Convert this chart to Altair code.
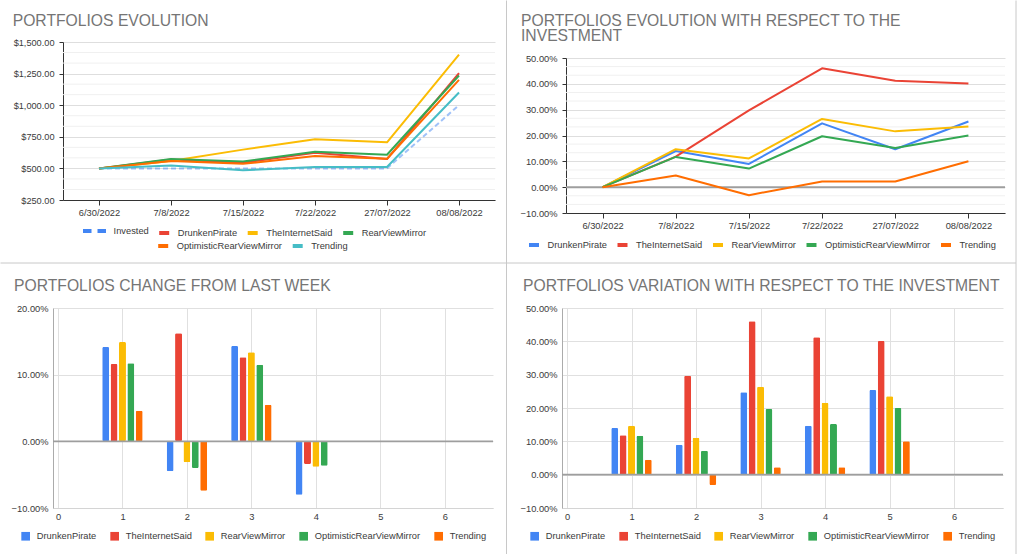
import altair as alt
import pandas as pd

FONT = "Liberation Sans"
LABEL = "#3a3a3a"
TITLE_GRAY = "#757575"
BLUE, RED, YELLOW, GREEN, ORANGE, TEAL = "#4285F4", "#EA4335", "#FBBC04", "#34A853", "#FF6D01", "#46BDC6"

dates = ["6/30/2022", "7/8/2022", "7/15/2022", "7/22/2022", "27/07/2022", "08/08/2022"]
portfolios = ["DrunkenPirate", "TheInternetSaid", "RearViewMirror", "OptimisticRearViewMirror", "Trending"]

# Portfolio value in dollars on each date
invested = [500, 500, 500, 500, 500, 1000]
drunken_pirate_usd = [500, 570, 545, 623.5, 573.5, 1254]
internet_said_usd = [500, 559, 648.5, 730, 706, 1401]
rear_view_usd = [500, 573.5, 555.5, 632, 608, 1235]
optimistic_rear_view_usd = [500, 558.5, 536, 598.5, 576, 1200]
trending_usd = [500, 522.5, 484.5, 511, 511, 1100]

# Return with respect to the invested amount (%)
drunken_pirate_ret = [0, 14.0, 9.0, 24.7, 14.7, 25.4]
internet_said_ret = [0, 11.8, 29.7, 46.0, 41.2, 40.1]
rear_view_ret = [0, 14.7, 11.1, 26.4, 21.6, 23.5]
optimistic_rear_view_ret = [0, 11.7, 7.2, 19.7, 15.2, 20.0]
trending_ret = [0, 4.5, -3.1, 2.2, 2.2, 10.0]

# Week-over-week change (%)
change_weeks = [1, 2, 3, 4]
drunken_pirate_chg = [14.15, -4.5, 14.3, -8.0]
internet_said_chg = [11.6, 16.2, 12.6, -3.4]
rear_view_chg = [14.9, -3.15, 13.35, -3.8]
optimistic_rear_view_chg = [11.7, -4.0, 11.5, -3.65]
trending_chg = [4.6, -7.4, 5.5, 0.0]

# Variation with respect to the investment, per week (%)
variation_weeks = [1, 2, 3, 4, 5]
drunken_pirate_var = [14.0, 9.0, 24.7, 14.7, 25.4]
internet_said_var = [11.8, 29.7, 46.0, 41.2, 40.1]
rear_view_var = [14.7, 11.1, 26.4, 21.6, 23.5]
optimistic_rear_view_var = [11.7, 7.2, 19.7, 15.2, 20.0]
trending_var = [4.5, -3.1, 2.2, 2.2, 10.0]

usd_ticks = [250, 500, 750, 1000, 1250, 1500]
ret_ticks = [-10, 0, 10, 20, 30, 40, 50]
chg_ticks = [-10, 0, 10, 20]
week_ticks = [0, 1, 2, 3, 4, 5, 6]


def minor_lines(ticks):
    step = ticks[1] - ticks[0]
    return [t + step * k / 3 for t in ticks[:-1] for k in (1, 2)]


def long_frame(xname, xs, series_dict):
    rows = []
    for i, (name, vals) in enumerate(series_dict.items()):
        for x, v in zip(xs, vals):
            rows.append({xname: x, "series": name, "idx": i, "value": v})
    return pd.DataFrame(rows)


usd_df = long_frame("date", dates, {
    "Invested": invested,
    "DrunkenPirate": drunken_pirate_usd,
    "TheInternetSaid": internet_said_usd,
    "RearViewMirror": rear_view_usd,
    "OptimisticRearViewMirror": optimistic_rear_view_usd,
    "Trending": trending_usd,
})
ret_df = long_frame("date", dates, dict(zip(portfolios, [
    drunken_pirate_ret, internet_said_ret, rear_view_ret, optimistic_rear_view_ret, trending_ret])))
chg_df = long_frame("week", change_weeks, dict(zip(portfolios, [
    drunken_pirate_chg, internet_said_chg, rear_view_chg, optimistic_rear_view_chg, trending_chg])))
var_df = long_frame("week", variation_weeks, dict(zip(portfolios, [
    drunken_pirate_var, internet_said_var, rear_view_var, optimistic_rear_view_var, trending_var])))

pct_expr = "format(datum.value, '.2f') + '%'"
ONE = pd.DataFrame({"d": [0]})


def heading(text, dx, dy):
    # panel heading, placed relative to the panel's plot area
    return alt.Chart(ONE).mark_text(
        align="left", baseline="alphabetic", font=FONT, fontSize=15.7, color=TITLE_GRAY,
        lineBreak="\n", lineHeight=15).encode(
        x=alt.value(dx), y=alt.value(dy), text=alt.value(text))


def line_legend(x, y, size=100, offset=6.5, **kw):
    return alt.Legend(orient="none", legendX=x, legendY=y, direction="horizontal", title=None,
                      symbolType="stroke", symbolSize=size, symbolStrokeWidth=4,
                      labelOffset=offset, columnPadding=2.5, symbolOpacity=1, **kw)


def date_x(r0, r1):
    return alt.X("date:O", sort=dates, title=None,
                 scale=alt.Scale(type="point", range=[r0, r1], padding=0.5),
                 axis=alt.Axis(labelAngle=0, domainColor="#333", tickColor="#333", tickSize=5,
                               labelPadding=3, grid=False, labelOverlap=False))


# ---- Portfolios evolution (dollars) ----
P1_L, P1_R = 10, 442
usd_scale = alt.Scale(domain=[250, 1500], nice=False, zero=False)
y_usd = alt.Y("value:Q", title=None, scale=usd_scale,
              axis=alt.Axis(values=usd_ticks, tickCount=len(usd_ticks), format="$,.2f", offset=-P1_L,
                            domainColor="#333", tickColor="#333", tickSize=4, labelPadding=5,
                            gridColor="#dedede", labelFontSize=9.2, labelOverlap=False))
usd_minor = alt.Chart(pd.DataFrame({"value": minor_lines(usd_ticks)})).mark_rule(
    color="#f0f0f0", strokeWidth=1).encode(
    y=alt.Y("value:Q", title=None, scale=usd_scale), x=alt.value(P1_L), x2=alt.value(P1_R))

inv_layer = alt.Chart(usd_df[usd_df.series == "Invested"]).mark_line(
    strokeWidth=2, strokeDash=[5, 3], strokeOpacity=0.5).encode(
    x=date_x(P1_L, P1_R), y=y_usd,
    color=alt.Color("series:N", scale=alt.Scale(domain=["Invested"], range=[BLUE]),
                    legend=line_legend(28, 175.5, size=529, offset=5.6, symbolDash=[8.5, 6])))
grp_a = ["DrunkenPirate", "TheInternetSaid", "RearViewMirror"]
grp_b = ["OptimisticRearViewMirror", "Trending"]
a_layer = alt.Chart(usd_df[usd_df.series.isin(grp_a)]).mark_line(strokeWidth=2, strokeJoin="round").encode(
    x=date_x(P1_L, P1_R), y=y_usd,
    color=alt.Color("series:N", scale=alt.Scale(domain=grp_a, range=[RED, YELLOW, GREEN]),
                    legend=line_legend(104.2, 184)))
b_layer = alt.Chart(usd_df[usd_df.series.isin(grp_b)]).mark_line(strokeWidth=2, strokeJoin="round").encode(
    x=date_x(P1_L, P1_R), y=y_usd,
    color=alt.Color("series:N", scale=alt.Scale(domain=grp_b, range=[ORANGE, TEAL]),
                    legend=line_legend(103.2, 197)))

p1 = alt.layer(usd_minor, inv_layer, a_layer, b_layer,
               heading("PORTFOLIOS EVOLUTION", -40.3, -16)).resolve_scale(
    color="independent").properties(width=442, height=158)

# ---- Portfolios evolution with respect to the investment (%) ----
P2_L, P2_R = 4, 443
ret_scale = alt.Scale(domain=[-10, 50], nice=False, range=[171, 16])
y_ret = alt.Y("value:Q", title=None, scale=ret_scale,
              axis=alt.Axis(values=ret_ticks, tickCount=len(ret_ticks), labelExpr=pct_expr, offset=-P2_L,
                            domainColor="#333", tickColor="#333", tickSize=4, labelPadding=5,
                            gridColor="#dedede", labelOverlap=False))
ret_minor = alt.Chart(pd.DataFrame({"value": minor_lines(ret_ticks)})).mark_rule(
    color="#f0f0f0", strokeWidth=1).encode(
    y=alt.Y("value:Q", title=None, scale=ret_scale), x=alt.value(P2_L), x2=alt.value(P2_R))
ret_zero = alt.Chart(pd.DataFrame({"value": [0]})).mark_rule(color="#9e9e9e", strokeWidth=2).encode(
    y=alt.Y("value:Q", title=None, scale=ret_scale), x=alt.value(P2_L), x2=alt.value(P2_R))
ret_lines = alt.Chart(ret_df).mark_line(strokeWidth=2, strokeJoin="round").encode(
    x=date_x(P2_L, P2_R), y=y_ret,
    color=alt.Color("series:N", scale=alt.Scale(domain=portfolios, range=[BLUE, RED, YELLOW, GREEN, ORANGE]),
                    legend=line_legend(-35, 196)))
p2 = alt.layer(ret_minor, ret_zero, ret_lines,
               heading("PORTFOLIOS EVOLUTION WITH RESPECT TO THE\nINVESTMENT", -41, -16)).properties(
    width=443, height=171)


# ---- Grouped bar panels ----
def bar_panel(df, ymin, ymax, yticks, width, xmax, text, dx, dividers=False):
    yscale = alt.Scale(domain=[ymin, ymax], nice=False)
    bars = alt.Chart(df).transform_calculate(
        xpos="datum.week + (datum.idx - 2) * 0.13").mark_bar(width=7, cornerRadius=1.5).encode(
        x=alt.X("xpos:Q", title=None, scale=alt.Scale(domain=[0, xmax], nice=False, zero=False),
                axis=alt.Axis(values=week_ticks, tickCount=len(week_ticks), format="d", grid=True,
                              gridColor="#e0e0e0", domainColor="#d4d4d4", ticks=False, labelPadding=4,
                              labelOverlap=False)),
        y=alt.Y("value:Q", title=None, scale=yscale,
                axis=alt.Axis(values=yticks, tickCount=len(yticks), labelExpr=pct_expr, grid=True,
                              gridColor="#e0e0e0", domainColor="#ababab", ticks=False, labelPadding=5,
                              labelOverlap=False)),
        color=alt.Color("series:N",
                        scale=alt.Scale(domain=portfolios, range=[BLUE, RED, YELLOW, GREEN, ORANGE]),
                        legend=alt.Legend(orient="none", legendX=-32, legendY=223.6, direction="horizontal",
                                          title=None, symbolType="square", symbolSize=75,
                                          symbolStrokeWidth=0, labelOffset=6.5, columnPadding=13)))
    zero = alt.Chart(pd.DataFrame({"value": [0]})).mark_rule(color="#9e9e9e", strokeWidth=1.6).encode(
        y=alt.Y("value:Q", title=None, scale=yscale))
    layers = [bars, zero, heading(text, dx, -17)]
    if dividers:
        # light separators between the four panels
        layers += [
            alt.Chart(ONE).mark_rule(color="#c8c8c8", strokeWidth=1).encode(
                x=alt.value(-52.5), x2=alt.value(963), y=alt.value(-45)),
            alt.Chart(ONE).mark_rule(color="#c8c8c8", strokeWidth=1).encode(
                x=alt.value(453.5), y=alt.value(-307.5), y2=alt.value(246)),
            alt.Chart(ONE).mark_rule(color="#c8c8c8", strokeWidth=1).encode(
                x=alt.value(963), y=alt.value(-307.5), y2=alt.value(246)),
        ]
    return alt.layer(*layers).properties(width=width, height=200)


p3 = bar_panel(chg_df, -10, 20, chg_ticks, 440, 6.67, "PORTFOLIOS CHANGE FROM LAST WEEK", -39, dividers=True)
p4 = bar_panel(var_df, -10, 50, ret_ticks, 441, 6.68,
               "PORTFOLIOS VARIATION WITH RESPECT TO THE INVESTMENT", -39)

chart = alt.concat(p1, p2, p3, p4, columns=2, spacing={"row": 95, "column": 67},
                   bounds="flush").resolve_scale(color="independent").properties(
    padding=0, background="white"
).configure_view(stroke=None).configure_axis(
    labelFont=FONT, labelColor=LABEL, labelFontSize=9.3
).configure_legend(
    labelFont=FONT, labelFontSize=9.3, labelColor=LABEL, padding=0
)

chart.save("out.html", embed_options={"renderer": "svg", "actions": False})
